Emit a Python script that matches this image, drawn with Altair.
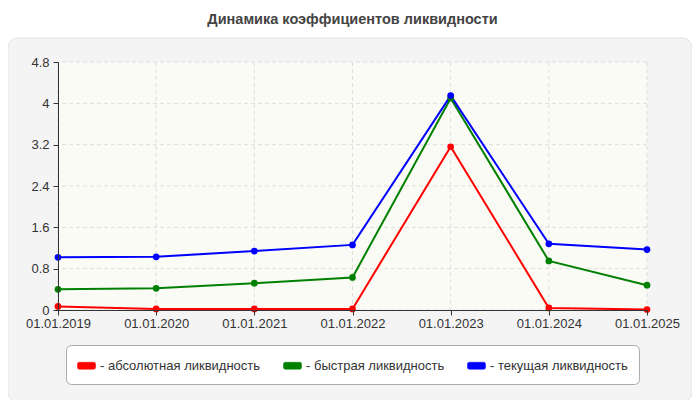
import altair as alt
import pandas as pd

dates = ["01.01.2019", "01.01.2020", "01.01.2021", "01.01.2022", "01.01.2023", "01.01.2024", "01.01.2025"]
series_names = ["абсолютная ликвидность", "быстрая ликвидность", "текущая ликвидность"]
series_colors = ["#ff0000", "#008000", "#0000ff"]
absolute = [0.07, 0.02, 0.02, 0.02, 3.16, 0.04, 0.01]
quick = [0.40, 0.42, 0.52, 0.63, 4.10, 0.95, 0.48]
current = [1.02, 1.03, 1.14, 1.26, 4.15, 1.28, 1.17]
y_ticks = [0, 0.8, 1.6, 2.4, 3.2, 4, 4.8]

rows = []
for name, vals in zip(series_names, [absolute, quick, current]):
    for d, v in zip(dates, vals):
        rows.append({"date": d, "series": name, "value": v})
df = pd.DataFrame(rows)

W, H = 589, 248
FONT = "Liberation Sans"

x_axis = alt.Axis(title=None, labelAngle=0, labelPadding=2, zindex=2, grid=False,
                  domainColor="#333333", tickColor="#333333", tickSize=5,
                  labelColor="#333333", labelFontSize=13, labelFont=FONT)
y_axis = alt.Axis(title=None, values=y_ticks, format="~g", labelPadding=4, zindex=2, grid=False,
                  domainColor="#333333", tickColor="#333333", tickSize=5,
                  labelColor="#333333", labelFontSize=13, labelFont=FONT)

x_enc = alt.X("date:O", sort=dates, scale=alt.Scale(type="point", padding=0), axis=x_axis)
y_scale = alt.Scale(domain=[0, 4.8], nice=False)

panel = alt.Chart(alt.Data(values=[{}])).mark_rect(
    fill="#f4f4f4", stroke="#e2e2e2", strokeWidth=1, cornerRadius=10
).encode(x=alt.value(-50), x2=alt.value(634), y=alt.value(-24), y2=alt.value(340))

plotbg = alt.Chart(alt.Data(values=[{}])).mark_rect(
    fill="#fbfbf6"
).encode(x=alt.value(0), x2=alt.value(W), y=alt.value(0), y2=alt.value(H))

vgrid = alt.Chart(pd.DataFrame({"date": dates})).mark_rule(
    color="#dddddd", strokeDash=[4, 3], strokeWidth=1
).encode(x=x_enc)

hgrid = alt.Chart(pd.DataFrame({"v": y_ticks})).mark_rule(
    color="#dddddd", strokeDash=[4, 3], strokeWidth=1
).encode(y=alt.Y("v:Q", scale=y_scale, axis=y_axis))

color_enc = alt.Color(
    "series:N",
    scale=alt.Scale(domain=series_names, range=series_colors),
    legend=alt.Legend(
        title=None, orient="none", legendX=8, legendY=283, direction="horizontal",
        labelExpr="'- ' + datum.label", labelLimit=400,
        symbolType="M-0.8,-0.39 L0.8,-0.39 Q1,-0.39 1,-0.2 L1,0.2 Q1,0.39 0.8,0.39 L-0.8,0.39 Q-1,0.39 -1,0.2 L-1,-0.2 Q-1,-0.39 -0.8,-0.39 Z",
        symbolSize=324, symbolStrokeWidth=0.5, symbolOpacity=1,
        labelFontSize=13, labelColor="#333333", labelFont=FONT, labelOffset=4,
        columnPadding=21, padding=11, fillColor="#ffffff", strokeColor="#aaaaaa",
        cornerRadius=5,
    ),
)

base = alt.Chart(df).encode(
    x=x_enc,
    y=alt.Y("value:Q", scale=y_scale, axis=y_axis),
    color=color_enc,
)
lines = base.mark_line(strokeWidth=2)
points = base.mark_point(filled=True, size=45, opacity=1)

chart = alt.layer(panel, plotbg, vgrid, hgrid, lines, points).properties(
    width=W, height=H,
    title=alt.TitleParams("Динамика коэффициентов ликвидности", fontSize=14.5, fontWeight="bold",
                          color="#444444", font=FONT, anchor="middle", offset=10),
    autosize=alt.AutoSizeParams(type="none"),
    padding={"left": 50, "top": 54, "right": 45, "bottom": 90},
    background="white",
).configure_view(stroke=None)

chart.save("out.html", embed_options={"renderer": "svg", "actions": False})
